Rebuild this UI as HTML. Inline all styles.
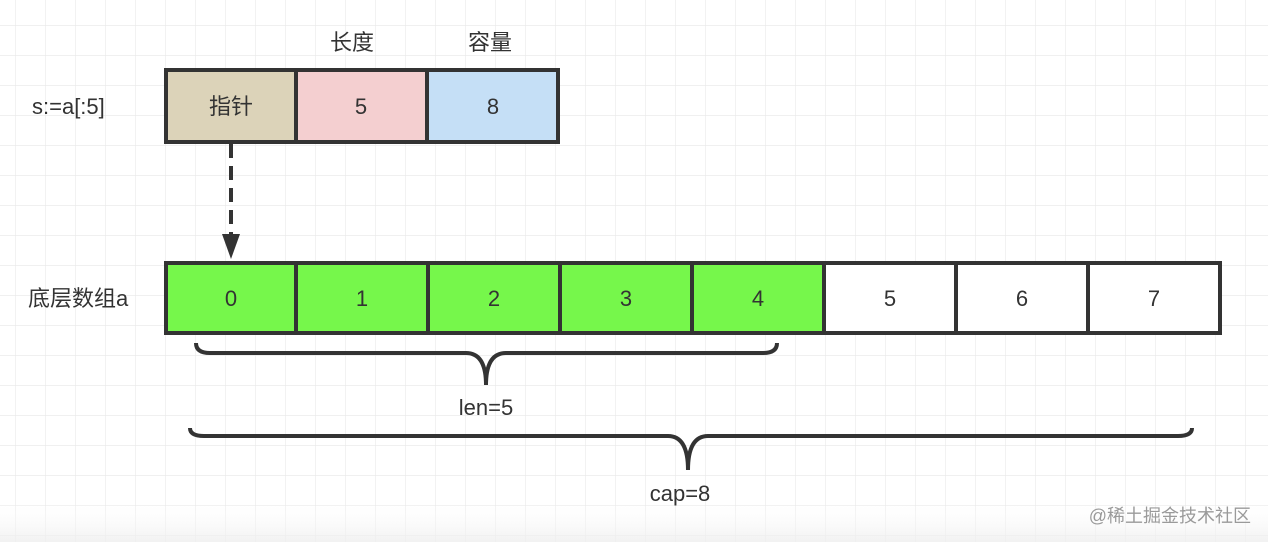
<!DOCTYPE html>
<html><head><meta charset="utf-8"><style>
html,body{margin:0;padding:0;background:#fff;}
svg{display:block;}
text{font-family:"Liberation Sans","Noto Sans CJK SC",sans-serif;fill:#333;}
</style></head><body>
<svg width="1268" height="542" viewBox="0 0 1268 542" xmlns="http://www.w3.org/2000/svg">
<defs>
<pattern id="g" x="15" y="25" width="30" height="30" patternUnits="userSpaceOnUse">
<path d="M0 0H30M0 0V30" stroke="#e8e8e8" stroke-width="1.2" fill="none"/>
</pattern>
<linearGradient id="fade" x1="0" y1="0" x2="0" y2="1"><stop offset="0" stop-color="#fff" stop-opacity="0"/><stop offset="1" stop-color="#eee" stop-opacity="0.8"/></linearGradient>
</defs>
<rect width="1268" height="542" fill="#fff"/>
<rect width="1268" height="542" fill="url(#g)"/>
<rect y="500" width="1268" height="42" fill="url(#fade)"/>

<text x="32" y="114" font-size="22">s:=a[:5]</text>
<text x="330" y="50" font-size="22">长度</text>
<text x="468" y="50" font-size="22">容量</text>

<g stroke="#333" stroke-width="4">
<rect x="166" y="70" width="130" height="72" fill="#dcd3b9"/>
<rect x="296" y="70" width="131" height="72" fill="#f4cfd0"/>
<rect x="427" y="70" width="131" height="72" fill="#c5dff6"/>
</g>
<text x="231" y="114" font-size="22" text-anchor="middle">指针</text>
<text x="361" y="114" font-size="22" text-anchor="middle">5</text>
<text x="493" y="114" font-size="22" text-anchor="middle">8</text>

<line x1="231" y1="144" x2="231" y2="236" stroke="#333" stroke-width="4" stroke-dasharray="14,8"/>
<polygon points="222,234 240,234 231,259" fill="#333"/>

<text x="28" y="306" font-size="22">底层数组a</text>
<g stroke="#333" stroke-width="4">
<rect x="166" y="263" width="130" height="70" fill="#76f74b"/>
<rect x="296" y="263" width="132" height="70" fill="#76f74b"/>
<rect x="428" y="263" width="132" height="70" fill="#76f74b"/>
<rect x="560" y="263" width="132" height="70" fill="#76f74b"/>
<rect x="692" y="263" width="132" height="70" fill="#76f74b"/>
<rect x="824" y="263" width="132" height="70" fill="#fff"/>
<rect x="956" y="263" width="132" height="70" fill="#fff"/>
<rect x="1088" y="263" width="132" height="70" fill="#fff"/>
</g>
<g font-size="22" text-anchor="middle">
<text x="231" y="306">0</text><text x="362" y="306">1</text><text x="494" y="306">2</text>
<text x="626" y="306">3</text><text x="758" y="306">4</text><text x="890" y="306">5</text>
<text x="1022" y="306">6</text><text x="1154" y="306">7</text>
</g>

<path d="M196 343 Q196 353 210 353 L466 353 Q486 353 486 385 Q486 353 506 353 L763 353 Q777 353 777 343" fill="none" stroke="#333" stroke-width="4"/>
<text x="486" y="415" font-size="22" text-anchor="middle">len=5</text>

<path d="M190 428 Q190 436 204 436 L668 436 Q688 436 688 470 Q688 436 708 436 L1178 436 Q1192 436 1192 428" fill="none" stroke="#333" stroke-width="4"/>
<text x="680" y="501" font-size="22" text-anchor="middle">cap=8</text>

<text x="1251" y="522" font-size="18" text-anchor="end" style="fill:#9a9a9a">@稀土掘金技术社区</text>
</svg>
</body></html>
